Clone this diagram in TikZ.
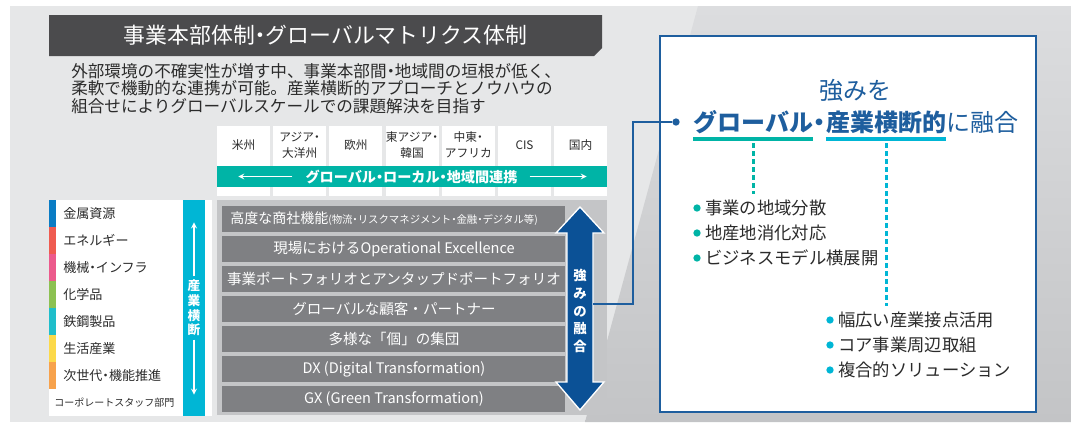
\documentclass[tikz,border=0pt]{standalone}
\usepackage{fontspec}
\setmainfont{Noto Sans CJK JP}
\usetikzlibrary{positioning}
\definecolor{bgGray}{HTML}{E6E7E8}
\definecolor{shadeTop}{HTML}{DCDDDF}
\definecolor{shadeBottom}{HTML}{C3C4C6}
\definecolor{titleGray}{HTML}{4B4B4D}
\definecolor{inkGray}{HTML}{2B2B2B}
\definecolor{panelGray}{HTML}{C4C5C7}
\definecolor{barGray}{HTML}{7F8083}
\definecolor{tealBand}{HTML}{00B4A6}
\definecolor{cyanBand}{HTML}{00B6D5}
\definecolor{navyArrow}{HTML}{0B5196}
\definecolor{frameBlue}{HTML}{1E5E9E}
\definecolor{metalBlue}{HTML}{0A7CC4}
\definecolor{energyRed}{HTML}{EF5B50}
\definecolor{machinePink}{HTML}{EC5A8C}
\definecolor{chemGreen}{HTML}{8CC152}
\definecolor{steelTeal}{HTML}{1FBECB}
\definecolor{lifeYellow}{HTML}{FCD94A}
\definecolor{nextOrange}{HTML}{F7A24C}
\newcommand{\nDot}{\makebox[.5em][c]{・}}
\newcommand{\regionCell}[3]{%%
  \fill[white] (#1-26.5,126) rectangle (#1+26.5,196);
  \node[cellTextStyle] (#2) at (#1,145) {#3};
}
\newcommand{\sectorItem}[4]{%%
  \fill[#2] (49,#3) rectangle (56,#3+27);
  \node[sectorStyle] (#1) at (63,#3+13.5) {#4};
}
\newcommand{\capabilityBar}[3]{%%
  \fill[barGray] (222,#2) rectangle (565,#2+26);
  \node[barTextStyle] (#1) at (394,#2+13) {#3};
}
\newcommand{\strengthItem}[5]{%%
  \node[bulletStyle,fill=#4] (#1Dot) at (#2,#3) {};
  \node[itemStyle] (#1) at (#2+8,#3) {#5};
}
\begin{document}
\begin{tikzpicture}[x=0.75pt,y=-0.75pt,%%
  titleStyle/.style={text=white,inner sep=0pt,font=\fontsize{16.4}{18}\selectfont},%%
  descStyle/.style={anchor=west,inner sep=0pt,text=inkGray,font=\fontsize{12.45}{14}\selectfont},%%
  cellTextStyle/.style={align=center,inner sep=0pt,text=inkGray,font=\fontsize{8.8}{12}\selectfont},%%
  bandTextStyle/.style={text=white,inner sep=0pt,font=\fontsize{10.6}{12}\selectfont\bfseries},%%
  thinArrowStyle/.style={->,>=stealth,white,line width=1pt},%%
  sectorStyle/.style={anchor=west,inner sep=0pt,text=inkGray,font=\fontsize{9.8}{12}\selectfont},%%
  crossTextStyle/.style={align=center,inner sep=0pt,text=white,font=\fontsize{9.5}{11}\selectfont\bfseries},%%
  barTextStyle/.style={inner sep=0pt,text=white,font=\fontsize{10.9}{12}\selectfont},%%
  fuseTextStyle/.style={align=center,inner sep=0pt,text=white,font=\fontsize{10}{13.3}\selectfont\bfseries},%%
  linkStyle/.style={-,frameBlue,line width=1.5pt},%%
  hubDotStyle/.style={circle,fill=frameBlue,inner sep=0pt,minimum size=5.5pt},%%
  headStyle/.style={inner sep=0pt,text=frameBlue,font=\fontsize{18}{20}\selectfont},%%
  headBoldStyle/.style={headStyle,font=\fontsize{18}{20}\selectfont\bfseries},%%
  underStyle/.style={line width=3pt},%%
  dashStyle/.style={line width=2.25pt,dash pattern=on 3.75pt off 2.25pt},%%
  bulletStyle/.style={circle,inner sep=0pt,minimum size=5.5pt},%%
  itemStyle/.style={anchor=west,inner sep=0pt,text=inkGray,font=\fontsize{13}{15}\selectfont}%%
]
%%
%% Page and background.
\useasboundingbox (0,0) rectangle (1071,422);
\fill[white] (0,0) rectangle (1071,422);
\fill[bgGray] (10,6) rectangle (1071,422);
\shade[top color=shadeTop,bottom color=shadeBottom] (698,6) -- (1071,6) -- (1071,422) -- (585,422) -- cycle;
%%
%% Title and summary.
\fill[titleGray] (49,15) -- (602,15) -- (602,48) -- (594,56) -- (49,56) -- cycle;
\node[titleStyle] (mainTitle) at (325.5,35.5) {事業本部体制\nDot グローバルマトリクス体制};
\node[descStyle] (summaryA) at (71,71) {外部環境の不確実性が増す中、事業本部間\nDot 地域間の垣根が低く、};
\node[descStyle] (summaryB) at (71,88.5) {柔軟で機動的な連携が可能。産業横断的アプローチとノウハウの};
\node[descStyle] (summaryC) at (71,106) {組合せによりグローバルスケールでの課題解決を目指す};
%%
%% Regions.
\regionCell{243.5}{regionA}{米州}
\regionCell{299.7}{regionB}{アジア\nDot\\大洋州}
\regionCell{355.9}{regionC}{欧州}
\regionCell{412.1}{regionD}{東アジア\nDot\\韓国}
\regionCell{468.3}{regionE}{中東\nDot\\アフリカ}
\regionCell{524.5}{regionF}{CIS}
\regionCell{580.7}{regionG}{国内}
\fill[tealBand] (217,166) rectangle (607,187);
\node[bandTextStyle] (linkText) at (411.5,176.5) {グローバル\nDot ローカル\nDot 地域間連携};
\draw[thinArrowStyle] ([xshift=-9.75pt]linkText.west) -- ++(-54,0);
\draw[thinArrowStyle] ([xshift=9pt]linkText.east) -- ++(57,0);
%%
%% Business sectors.
\fill[white] (49,200) rectangle (212,416);
\sectorItem{sectorA}{metalBlue}{200}{金属資源}
\sectorItem{sectorB}{energyRed}{227}{エネルギー}
\sectorItem{sectorC}{machinePink}{254}{機械\nDot インフラ}
\sectorItem{sectorD}{chemGreen}{281}{化学品}
\sectorItem{sectorE}{steelTeal}{308}{鉄鋼製品}
\sectorItem{sectorF}{lifeYellow}{335}{生活産業}
\sectorItem{sectorG}{nextOrange}{362}{次世代\nDot 機能推進}
\node[sectorStyle,font=\fontsize{7.5}{9}\selectfont] (sectorH) at (54,403) {コーポレートスタッフ部門};
\fill[cyanBand] (183,200) rectangle (205,416);
\node[crossTextStyle] (crossText) at (194,308) {産\\業\\横\\断};
\draw[thinArrowStyle] ([yshift=2.5pt]crossText.north) -- ++(0,-54);
\draw[thinArrowStyle] ([yshift=-2.5pt]crossText.south) -- ++(0,55);
%%
%% Capabilities.
\fill[panelGray] (217,200) rectangle (607,415);
\fill[barGray] (222,206) rectangle (565,232);
\node[barTextStyle,anchor=west,font=\fontsize{10.5}{12}\selectfont] (barA) at (230,219) {高度な商社機能{\fontsize{7.8}{9}\selectfont(物流\nDot リスクマネジメント\nDot 金融\nDot デジタル等)}};
\capabilityBar{barB}{236}{現場におけるOperational Excellence}
\capabilityBar{barC}{266}{事業ポートフォリオとアンタップドポートフォリオ}
\capabilityBar{barD}{296}{グローバルな顧客・パートナー}
\capabilityBar{barE}{326}{多様な「個」の集団}
\capabilityBar{barF}{356}{DX (Digital Transformation)}
\capabilityBar{barG}{386}{GX (Green Transformation)}
%%
%% Fusion arrow.
\coordinate (fuseTop) at (580,207);
\coordinate (fuseBottom) at (580,410);
\coordinate (fuseOut) at (593,304);
\fill[navyArrow,draw=white,line width=1pt] (fuseTop) -- (604,233) -- (593,233) -- (593,382) -- (604,382) -- (fuseBottom) -- (556,382) -- (567,382) -- (567,233) -- (556,233) -- cycle;
\node[fuseTextStyle] (fuseText) at (580,311) {強\\み\\の\\融\\合};
%%
%% Strength box.
\draw[fill=white,draw=frameBlue,line width=1.6pt] (660,36) rectangle (1036,412);
\coordinate (bendPoint) at (633,122);
\node[hubDotStyle] (hubDot) at (676,122) {};
\draw[linkStyle] (fuseOut) -| (bendPoint) -- (hubDot);
\node[headStyle] (strengthLine) at (855,90) {強みを};
\node[headBoldStyle,anchor=base west] (globalWord) at (693,131) {グローバル};
\node[headBoldStyle,base right=0pt of globalWord] (midDot) {\nDot};
\node[headBoldStyle,base right=0pt of midDot] (crossWord) {産業横断的};
\node[headStyle,base right=0pt of crossWord] (fuseWord) {に融合};
\draw[underStyle,tealBand] ([yshift=-6pt]globalWord.base west) -- ([yshift=-6pt]globalWord.base east);
\draw[underStyle,cyanBand] ([yshift=-6pt]crossWord.base west) -- ([yshift=-6pt]crossWord.base east);
%%
%% Strength items.
\strengthItem{globalA}{697}{208}{tealBand}{事業の地域分散}
\strengthItem{globalB}{697}{233}{tealBand}{地産地消化対応}
\strengthItem{globalC}{697}{258}{tealBand}{ビジネスモデル横展開}
\strengthItem{crossA}{830}{320}{cyanBand}{幅広い産業接点活用}
\strengthItem{crossB}{830}{345}{cyanBand}{コア事業周辺取組}
\strengthItem{crossC}{830}{370}{cyanBand}{複合的ソリューション}
\draw[dashStyle,tealBand] ([yshift=-9pt]globalWord.base) -- ([yshift=4.5pt]globalWord.base |- globalA.north);
\draw[dashStyle,cyanBand] ([yshift=-9pt]crossWord.base) -- ([yshift=4.5pt]crossWord.base |- crossA.north);
\end{tikzpicture}
\end{document}
